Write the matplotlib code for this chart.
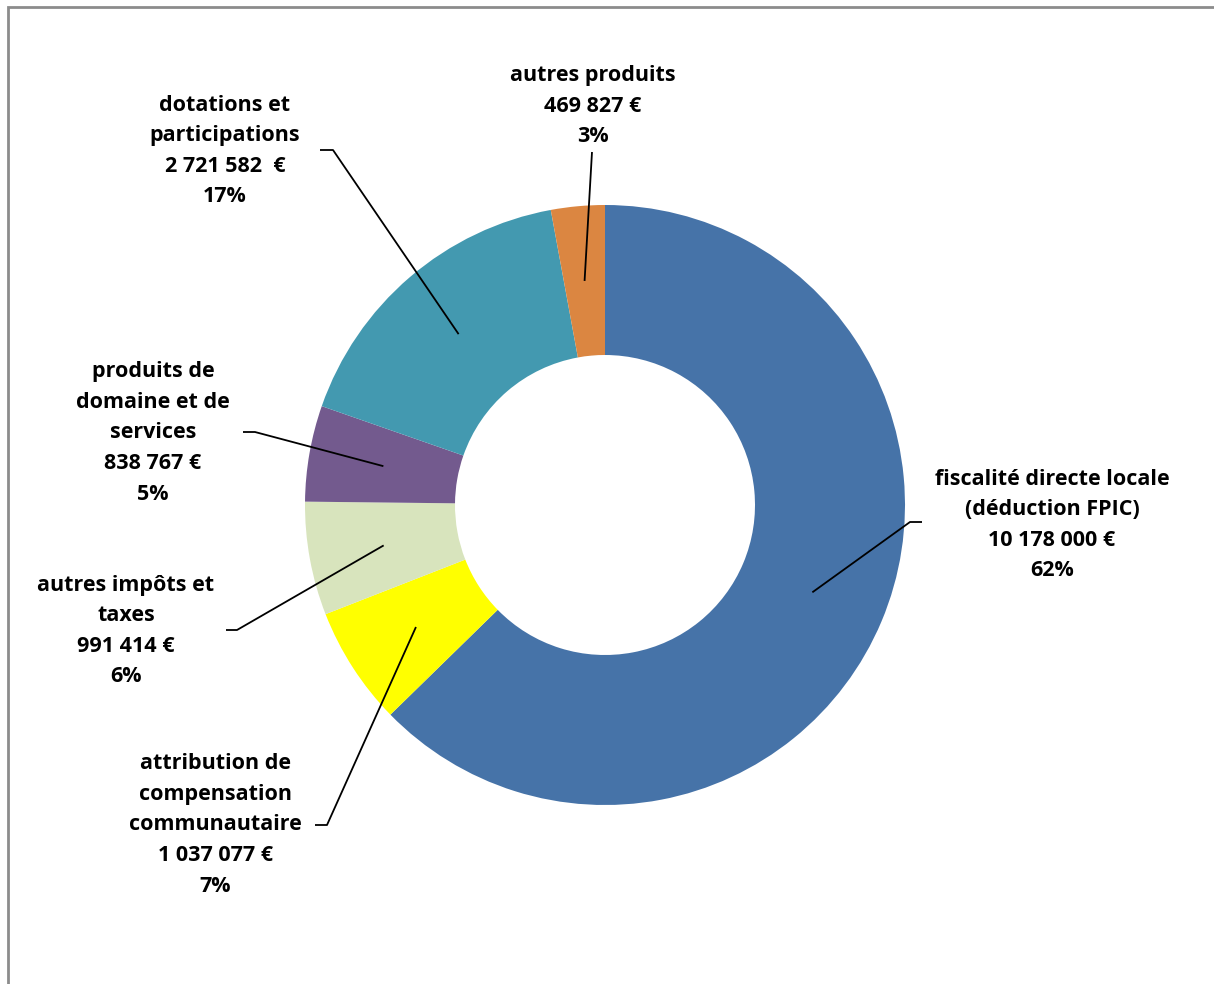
import matplotlib
matplotlib.use("Agg")
from matplotlib import pyplot as plt
from matplotlib.patches import Rectangle
import numpy as np

plt.rcParams['font.family'] = ['Open Sans', 'DejaVu Sans']

# data (clockwise from the top)
categories = ["fiscalité directe locale\n(déduction FPIC)",
              "attribution de\ncompensation\ncommunautaire",
              "autres impôts et\ntaxes",
              "produits de\ndomaine et de\nservices",
              "dotations et\nparticipations",
              "autres produits"]
values = [10178000, 1037077, 991414, 838767, 2721582, 469827]
value_labels = ["10 178 000 €", "1 037 077 €", "991 414 €", "838 767 €", "2 721 582  €", "469 827 €"]
pct_labels = ["62%", "7%", "6%", "5%", "17%", "3%"]
colors = ["#4673A8", "#FFFF00", "#D8E4BD", "#735A8E", "#4399B0", "#DB8641"]

# label block centres (pixels, y down) and elbow ends of leader lines
label_pos = [(1052, 525), (215, 825), (126, 631), (153, 433), (225, 151), (593, 106)]
elbow = [(910, 522, 922), (327, 825, 315), (237, 630, 226), (255, 432, 243), (333, 150, 320), (592, 152, None)]

W, H = 1214, 984
fig = plt.figure(figsize=(W / 100, H / 100), dpi=100)
ax = fig.add_axes([0, 0, 1, 1])

cx, cy, R = 605, H - 505, 300
wedges, _ = ax.pie(values, colors=colors, startangle=90, counterclock=False,
                   center=(cx, cy), radius=R, frame=True,
                   wedgeprops=dict(width=R * 0.5, linewidth=0))
ax.set_xlim(0, W)
ax.set_ylim(0, H)
ax.set_aspect('equal')
ax.axis('off')

for i, w in enumerate(wedges):
    mid = np.deg2rad((w.theta1 + w.theta2) / 2)
    px = cx + 0.75 * R * np.cos(mid)
    py = cy + 0.75 * R * np.sin(mid)
    ex, ey, hx = elbow[i]
    xs = [px, ex]
    ys = [py, H - ey]
    if hx is not None:
        xs.append(hx)
        ys.append(H - ey)
    ax.plot(xs, ys, color="black", lw=1.3, solid_capstyle='butt')
    txt = categories[i] + "\n" + value_labels[i] + "\n" + pct_labels[i]
    lx, ly = label_pos[i]
    ax.text(lx, H - ly, txt, ha='center', va='center', fontsize=15.5,
            fontweight='bold', linespacing=1.6, color='black')

# outer frame (right and bottom edges are outside the picture)
fig.patches.append(Rectangle((8 / W, -0.1), 1.2, (H - 7) / H + 0.1, transform=fig.transFigure,
                             fill=False, edgecolor="#8C8C8C", lw=2))

fig.savefig("out.png", dpi=100)
